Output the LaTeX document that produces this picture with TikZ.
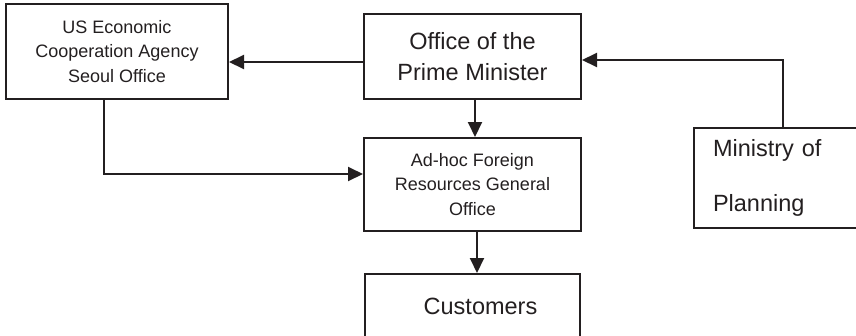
\documentclass[tikz,border=0pt]{standalone}
\usepackage{fontspec}
\setmainfont{Liberation Sans}
\usepackage{tikz}
\usetikzlibrary{positioning,arrows.meta}
\definecolor{ink}{RGB}{35,31,32}

\begin{document}
\begin{tikzpicture}[x=1pt,y=-1pt,
    box/.style={draw=ink,line width=2pt,align=center,inner sep=0pt,text=ink},
    small/.style={font=\fontsize{18}{24.5}\selectfont},
    big/.style={font=\fontsize{23.5}{31}\selectfont},
    arr/.style={-{Triangle[length=15pt,width=14pt]},draw=ink,line width=2pt}]
  \useasboundingbox (0,0) rectangle (856,335);
  \node[box,big,minimum width=217pt,minimum height=85pt] (pm) at (472.5,56.5) {Office of the\\Prime Minister};
  \node[box,small,minimum width=222pt,minimum height=95pt] (us) at (117,51.5) {US Economic\\Cooperation Agency\\Seoul Office};
  \node[box,small,minimum width=217pt,minimum height=93pt,below=37pt of pm] (adhoc) {Ad-hoc Foreign\\Resources General\\Office};
  \node[box,big,minimum width=215pt,minimum height=64pt,below=41pt of adhoc] (cust) {\hspace*{16pt}Customers};
  \node[box,font=\fontsize{23.5}{55}\selectfont,align=left,text width=140pt,inner xsep=19pt,minimum height=100pt] (mop) at (783,178) {Ministry of\\Planning};
  % connectors
  \coordinate (pmw) at ([yshift=-5.5pt]pm.west);
  \coordinate (ads) at ([xshift=4.5pt]adhoc.south);
  \draw[arr] (pmw) -- (pmw -| us.east);
  \draw[arr] ([xshift=2.5pt]pm.south) -- ([xshift=2.5pt]adhoc.north);
  \draw[arr] ([xshift=-13pt]us.south) |- ([yshift=10.5pt]adhoc.west);
  \draw[arr] (ads) -- (ads |- cust.north);
  \draw[arr] (mop.north) |- ([yshift=-3.5pt]pm.east);
\end{tikzpicture}
\end{document}
